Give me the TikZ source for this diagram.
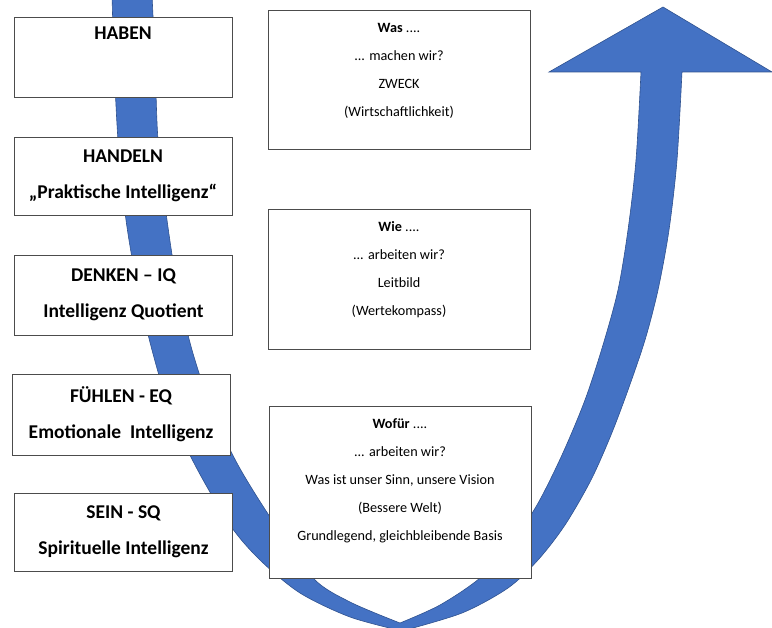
\documentclass[tikz,border=0pt]{standalone}
\usepackage{fontspec}
\setmainfont{Carlito}
\definecolor{arrowBlue}{HTML}{4472C4}
\definecolor{arrowEdge}{HTML}{2F528F}
\begin{document}
\begin{tikzpicture}[x=1pt, y=-1pt, line width=.8pt,
	leftBox/.style={draw=black!70, fill=white, minimum width=218pt, minimum height=80pt, align=center, font=\bfseries\fontsize{19.5}{36}\selectfont},
	rightBox/.style={draw=black!70, fill=white, minimum width=262pt},
	rightText/.style={align=center, font=\fontsize{14.2}{28}\selectfont},
	arrowFill/.style={fill=arrowBlue, draw=arrowEdge, line width=.6pt}]
	\useasboundingbox (0,0) rectangle (772,628);
	\clip (0,0) rectangle (772,628);
	% curved arrow behind the boxes
	\path[arrowFill] plot[smooth] coordinates {(112,-5) (114,60) (118,140) (126,220) (138,290) (152,350) (170,410) (195,465) (230,525) (260,560) (300,593) (350,617) (402,631)}
		-- plot[smooth] coordinates {(402,631) (462,613) (508,588) (538,560) (565,525) (591,480) (611,435) (628,390) (645,340) (658,290) (669,230) (677,160) (682,72)}
		-- (772,72) -- (663,7) -- (549,72)
		-- plot[smooth] coordinates {(641,72) (636,160) (628,230) (618,290) (603,345) (585,400) (562,455) (537,505) (510,545) (480,578) (440,605) (400,623)}
		-- plot[smooth] coordinates {(400,623) (350,602) (313,578) (272,520) (238,465) (212,410) (192,350) (178,290) (167,220) (158,140) (155,60) (152,-5)}
		-- cycle;
	% left column
	\node[leftBox] (habenBox) at (123,57) {HABEN\\\strut};
	\node[leftBox, minimum height=78pt] (handelnBox) at (123,176) {HANDELN\\„Praktische Intelligenz“};
	\node[leftBox] (denkenBox) at (123.5,295) {DENKEN – IQ\\Intelligenz Quotient};
	\node[leftBox, minimum height=81pt] (fuehlenBox) at (121,414.5) {FÜHLEN - EQ\\Emotionale\ \ Intelligenz};
	\node[leftBox, minimum height=78pt] (seinBox) at (123.5,532) {SEIN - SQ\\Spirituelle Intelligenz};
	% right column
	\node[rightBox, minimum height=139pt] (wasBox) at (399,79.5) {};
	\node[rightText] (wasText) at (399,71) {\textbf{Was} ....\\... machen wir?\\ZWECK\\(Wirtschaftlichkeit)};
	\node[rightBox, minimum height=140pt] (wieBox) at (399,279) {};
	\node[rightText] (wieText) at (399,269.5) {\textbf{Wie} ....\\... arbeiten wir?\\Leitbild\\(Wertekompass)};
	\node[rightBox, minimum height=172pt] (wofuerBox) at (400,492) {};
	\node[rightText] (wofuerText) at (400,481) {\textbf{Wofür} ....\\... arbeiten wir?\\Was ist unser Sinn, unsere Vision\\(Bessere Welt)\\Grundlegend, gleichbleibende Basis};
\end{tikzpicture}
\end{document}
